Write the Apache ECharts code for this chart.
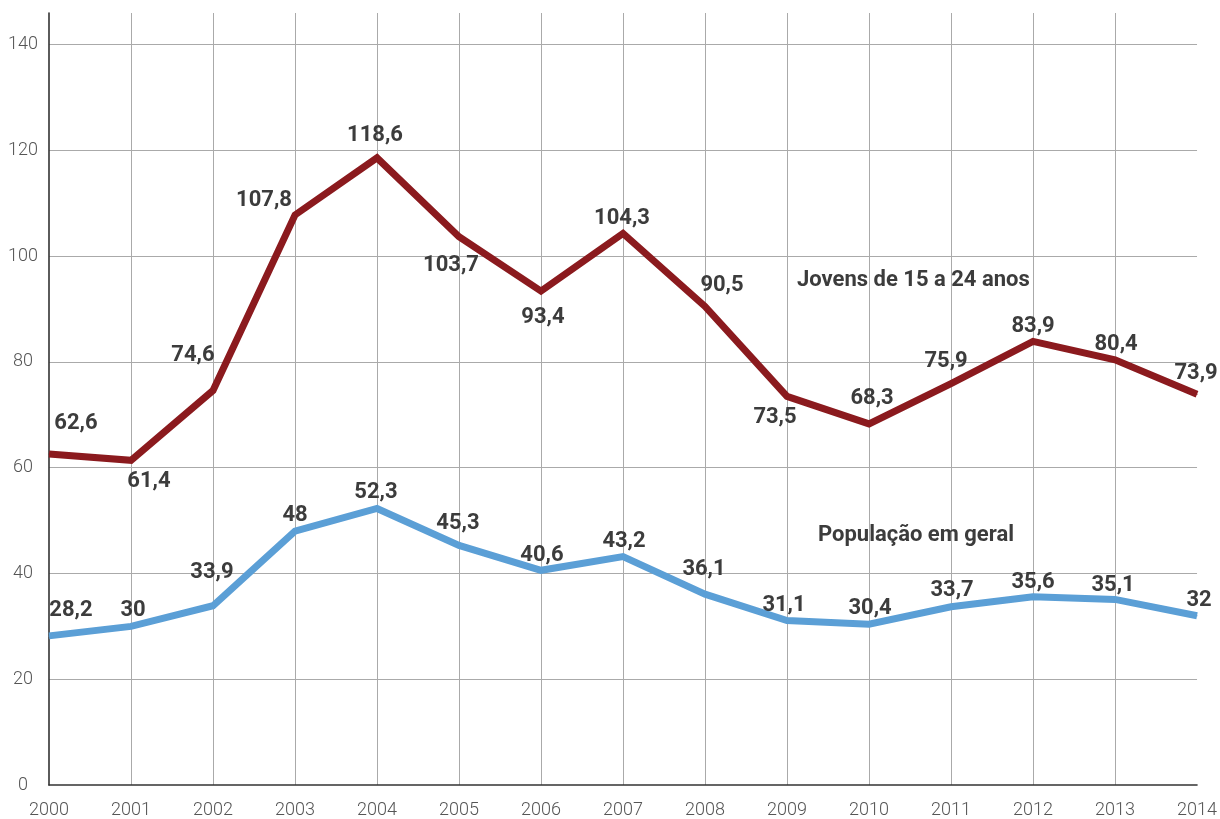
<!DOCTYPE html>
<html>
<head>
<meta charset="utf-8">
<script src="https://cdn.jsdelivr.net/npm/echarts@6/dist/echarts.min.js"></script>
<style>
html,body{margin:0;padding:0;background:#fff;}
#chart{width:1220px;height:819px;}
</style>
</head>
<body>
<div id="chart"></div>
<script>
// ---- data ----
var years = ['2000','2001','2002','2003','2004','2005','2006','2007','2008','2009','2010','2011','2012','2013','2014'];
var jovens = [62.6, 61.4, 74.6, 107.8, 118.6, 103.7, 93.4, 104.3, 90.5, 73.5, 68.3, 75.9, 83.9, 80.4, 73.9];
var populacao = [28.2, 30, 33.9, 48, 52.3, 45.3, 40.6, 43.2, 36.1, 31.1, 30.4, 33.7, 35.6, 35.1, 32];
var yTicks = [0, 20, 40, 60, 80, 100, 120, 140];
var seriesNames = ['Jovens de 15 a 24 anos', 'População em geral'];

// ---- label placement (style only) ----
var jovensOffsets = [[27,-30],[18,21],[-20,-35],[-31,-14],[-2,-22],[-8,29],[2,26],[-1,-15],[17,-21],[-12,21],[3,-25],[-5,-22],[0,-15],[1,-15],[-1,-21]];
var popOffsets = [[22,-25],[2,-16],[-1,-33],[0,-16],[-1,-16],[-1,-22],[1,-15],[1,-15],[-1,-25],[-3,-15],[1,-16],[1,-16],[0,-14],[-2,-14],[2,-15]];

function fmt(v){ return String(v).replace('.', ','); }
function buildData(vals, offs){
  return vals.map(function(v, i){
    return { value: v, label: { offset: offs[i] } };
  });
}

var labelStyle = {
  show: true,
  position: 'inside',
  align: 'center',
  verticalAlign: 'middle',
  fontFamily: 'Roboto',
  fontWeight: 'bold',
  fontSize: 22,
  color: '#3c3c3c',
  formatter: function(p){ return fmt(p.value); }
};

var chart = echarts.init(document.getElementById('chart'), null, {renderer: 'canvas'});
chart.setOption({
  animation: false,
  backgroundColor: '#fff',
  title: [
    { text: seriesNames[0], left: 797, top: 269, padding: 0,
      textStyle: { fontFamily: 'Roboto', fontWeight: 'bold', fontSize: 22, color: '#3c3c3c' } },
    { text: seriesNames[1], left: 818, top: 524, padding: 0,
      textStyle: { fontFamily: 'Roboto', fontWeight: 'bold', fontSize: 22, color: '#3c3c3c' } }
  ],
  grid: { left: 49, right: 22, top: 13, bottom: 33, containLabel: false },
  xAxis: {
    type: 'category',
    data: years,
    boundaryGap: false,
    axisLine: { show: true, lineStyle: { color: '#333', width: 1.6 } },
    axisTick: { show: false },
    axisLabel: { interval: 0, margin: 16, fontFamily: 'Roboto', fontWeight: 300, fontSize: 18, color: '#555' },
    splitLine: { show: true, showMinLine: false, showMaxLine: false, lineStyle: { color: '#aaa', width: 1 } }
  },
  yAxis: {
    type: 'value',
    min: 0,
    max: 146,
    interval: 20,
    axisLine: { show: true, lineStyle: { color: '#333', width: 1.6 } },
    axisTick: { show: false },
    axisLabel: {
      margin: 26, align: 'center',
      fontFamily: 'Roboto', fontWeight: 300, fontSize: 18, color: '#555',
      formatter: function(v){ return yTicks.indexOf(v) >= 0 ? String(v) : ''; }
    },
    splitLine: { show: true, showMinLine: false, showMaxLine: false, lineStyle: { color: '#aaa', width: 1 } }
  },
  series: [
    {
      name: seriesNames[0],
      type: 'line',
      data: buildData(jovens, jovensOffsets),
      symbol: 'circle',
      symbolSize: 1,
      showSymbol: true,
      itemStyle: { color: '#8b1a1e' },
      lineStyle: { color: '#8b1a1e', width: 7, join: 'miter' },
      label: labelStyle,
      z: 3
    },
    {
      name: seriesNames[1],
      type: 'line',
      data: buildData(populacao, popOffsets),
      symbol: 'circle',
      symbolSize: 1,
      showSymbol: true,
      itemStyle: { color: '#5b9fd6' },
      lineStyle: { color: '#5b9fd6', width: 7, join: 'miter' },
      label: labelStyle,
      z: 3
    }
  ]
});
</script>
</body>
</html>
